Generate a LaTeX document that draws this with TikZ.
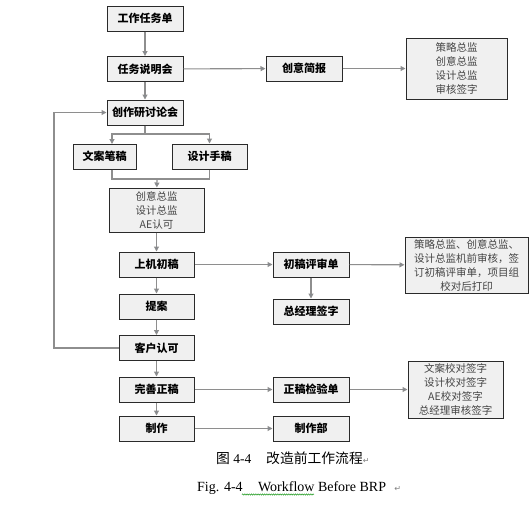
\documentclass[tikz,border=0pt]{standalone}
\usepackage{fontspec}
\setmainfont{Liberation Serif}
\newfontfamily\cjk{Noto Sans CJK SC}
\newfontfamily\symfont{DejaVu Sans}
\usepackage{tikz}
\usetikzlibrary{arrows.meta,positioning,decorations.pathmorphing}
\definecolor{boxfill}{HTML}{F0F0F0}
\definecolor{boxline}{HTML}{2A2A2A}
\definecolor{linkgray}{HTML}{8E8E8E}
\definecolor{tipblue}{HTML}{6F7F98}
\definecolor{notetext}{HTML}{444444}
\tikzset{
  stepbox/.style={draw=boxline,line width=1pt,fill=boxfill,minimum height=25pt,
    minimum width=76pt,inner sep=0pt,align=center,font=\cjk\bfseries\fontsize{11}{13}\selectfont},
  notebox/.style={draw=boxline,line width=1pt,fill=boxfill,inner sep=0pt,align=center,
    text=notetext,font=\cjk\fontsize{10.5}{14}\selectfont},
  flowarrow/.style={-{Triangle[length=5pt,width=5pt,fill=tipblue]},line width=1.1pt,draw=linkgray},
  flowline/.style={line width=1.1pt,draw=linkgray}
}
\begin{document}
\begin{tikzpicture}[x=1pt,y=-1pt]
\useasboundingbox[fill=white] (0,0) rectangle (531,507);

% main column
\node[stepbox] (task) at (145,18.5) {工作任务单};
\node[stepbox] (brief) at (145,69) {任务说明会};
\node[stepbox] (idea) at (304,68.5) {创意简报};
\node[notebox, minimum width=101pt, minimum height=61pt] (sign1) at (456.5,68.5) {策略总监\\创意总监\\设计总监\\审核签字};
\node[stepbox] (seminar) at (145,112.5) {创作研讨论会};
\node[stepbox, minimum width=63pt] (copy) at (104.5,156.5) {文案笔稿};
\node[stepbox, minimum width=75pt] (sketch) at (209.5,156.5) {设计手稿};
\node[notebox, minimum width=95pt, minimum height=44pt] (approve) at (156.5,210) {创意总监\\设计总监\\AE认可};
\node[stepbox, minimum width=75pt] (draft) at (156.5,264.5) {上机初稿};
\node[stepbox] (review) at (311,264.5) {初稿评审单};
\node[notebox, minimum width=123pt, minimum height=56pt] (sign2) at (466.5,265) {策略总监、创意总监、\\设计总监机前审核，签\\订初稿评审单，项目组\\校对后打印};
\node[stepbox] (gm) at (311,311.5) {总经理签字};
\node[stepbox, minimum width=75pt] (pitch) at (156.5,306.5) {提案};
\node[stepbox, minimum width=75pt] (client) at (156.5,348) {客户认可};
\node[stepbox, minimum width=75pt] (final) at (156.5,389.5) {完善正稿};
\node[stepbox] (check) at (311,389.5) {正稿检验单};
\node[notebox, minimum width=95pt, minimum height=57pt] (sign3) at (455.5,389.5) {文案校对签字\\设计校对签字\\AE校对签字\\总经理审核签字};
\node[stepbox, minimum width=75pt] (make) at (156.5,428.5) {制作};
\node[stepbox] (dept) at (311,428.5) {制作部};

% split and merge points
\coordinate (split) at (145,134);
\coordinate (merge) at (157,179);
\coordinate (loop) at (54,348);

\draw[flowarrow] (task) -- (brief);
\draw[flowarrow] (brief) -- (idea);
\draw[flowarrow] (idea) -- (sign1);
\draw[flowarrow] (brief) -- (seminar);
\draw[flowline] (seminar) -- (split);
\draw[flowarrow] (split) -| (112,144);
\draw[flowarrow] (split) -| (sketch.north);
\draw[flowline] (copy.south -| 112,0) |- (merge) -| (sketch.south);
\draw[flowarrow] (merge) -- (approve);
\draw[flowarrow] (approve.south -| draft) -- (draft);
\draw[flowarrow] (draft) -- (review);
\draw[flowarrow] (review) -- (sign2);
\draw[flowarrow] (review) -- (gm);
\draw[flowarrow] (draft) -- (pitch);
\draw[flowarrow] (pitch) -- (client);
\draw[flowarrow] (client) -- (loop) |- (seminar);
\draw[flowarrow] (client) -- (final);
\draw[flowarrow] (final) -- (check);
\draw[flowarrow] (check) -- (sign3);
\draw[flowarrow] (final) -- (make);
\draw[flowarrow] (make) -- (dept);

% captions
\node[anchor=west, inner sep=0pt, font=\fontsize{13.5}{15}\selectfont] (capcn) at (216,458)
  {{\cjk\fontsize{13.8}{15}\selectfont 图} 4-4\hspace{1.1em}{\cjk\fontsize{13.8}{15}\selectfont 改造前工作流程}{\symfont\fontsize{8}{8}\selectfont\color{gray}↵}};
\node[anchor=west, inner sep=0pt, font=\fontsize{14}{16}\selectfont] (capen) at (197,488)
  {Fig. 4-4\hspace{1.1em}Workflow Before BRP\hspace{0.6em}{\symfont\fontsize{8}{8}\selectfont\color{gray}↵}};
\draw[green!55!black, line width=0.4pt, decorate, decoration={snake, amplitude=0.7pt, segment length=2.2pt}]
  (242,494.5) -- (314,494.5);
\end{tikzpicture}
\end{document}
